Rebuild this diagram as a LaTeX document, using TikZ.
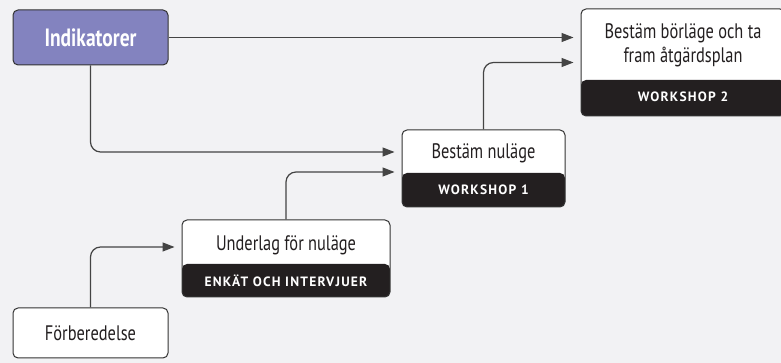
\documentclass[tikz,border=0pt]{standalone}
\usepackage{fontspec}
\setmainfont{PT Sans}[FakeStretch=0.78]
\newfontfamily\bandfont{PT Sans}[LetterSpace=9]
\usetikzlibrary{arrows.meta}
\definecolor{bg}{HTML}{F2F2F4}
\definecolor{purp}{HTML}{8383BF}
\definecolor{edge}{HTML}{333333}
\definecolor{wire}{HTML}{444444}
\definecolor{bandc}{HTML}{231F20}
\tikzset{
  box/.style={draw=edge, line width=1pt, rounded corners=5pt, fill=white, inner sep=0pt},
  bandbox/.style={box, path picture={\fill[bandc] (path picture bounding box.south west) rectangle ([yshift=#1]path picture bounding box.south east);}},
  title/.style={font=\fontsize{21}{23.5}\selectfont, text=bandc, align=center, inner sep=0pt},
  bandtxt/.style={font=\bandfont\bfseries\fontsize{13.5}{15}\selectfont, text=white, inner sep=0pt},
  conn/.style={draw=wire, line width=1.2pt, rounded corners=10pt, -{Triangle[length=12pt,width=9pt]}, shorten >=7pt}
}
\begin{document}
\begin{tikzpicture}[x=1pt,y=1pt]
\fill[bg] (0,0) rectangle (781,363);
\useasboundingbox (0,0) rectangle (781,363);
\begin{scope}
\clip (0,0) rectangle (781,363);
\node[box, fill=purp, minimum width=155pt, minimum height=55pt] (ind) at (90.5,325.5) {};
\node[title, font=\bfseries\fontsize{25}{27}\selectfont, text=white] (indt) at (ind) {Indikatorer};
\node[bandbox=36pt, minimum width=204pt, minimum height=107pt] (tr) at (683,300.5) {};
\node[title] (trt) at (683,317.5) {Bestäm börläge och ta\\fram åtgärdsplan};
\node[bandtxt] (trb) at (683,266) {WORKSHOP 2};
\node[bandbox=34pt, minimum width=163pt, minimum height=77pt] (b1) at (483.5,194.5) {};
\node[title] (b1t) at (483.5,210) {Bestäm nuläge};
\node[bandtxt] (b1b) at (483.5,173) {WORKSHOP 1};
\node[bandbox=33pt, minimum width=208pt, minimum height=77pt] (u) at (286,104.5) {};
\node[title] (ut) at (286,118) {Underlag för nuläge};
\node[bandtxt] (ub) at (286,82) {ENKÄT OCH INTERVJUER};
\node[box, minimum width=155pt, minimum height=50pt] (f) at (90.5,30) {};
\node[title] (ft) at (f) {Förberedelse};
\end{scope}
\draw[conn] (ind.east) -- (tr.west |- ind.east);
\draw[conn] (ind.south) |- ([yshift=16.5pt]b1.west);
\draw[conn] (b1.north) |- (tr.west);
\draw[conn] (u.north) |- ([yshift=-3.5pt]b1.west);
\draw[conn] (f.north) |- ([yshift=11.5pt]u.west);
\end{tikzpicture}
\end{document}
